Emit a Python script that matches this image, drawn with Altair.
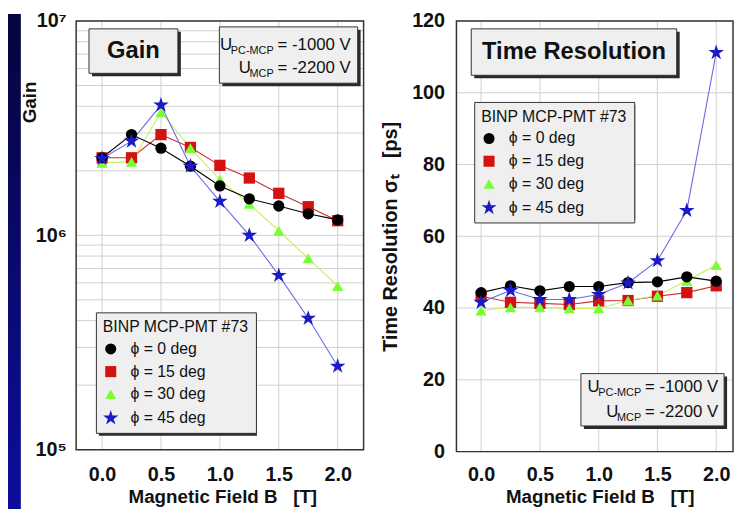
import altair as alt
import pandas as pd

FONT = "Liberation Sans"
GRID = "#cfcfcf"
INK = "#111111"

B = [0.0, 0.25, 0.5, 0.75, 1.0, 1.25, 1.5, 1.75, 2.0]
phi_labels = ["ϕ = 0 deg", "ϕ = 15 deg", "ϕ = 30 deg", "ϕ = 45 deg"]

gain_phi0 = [2.30e6, 2.95e6, 2.55e6, 2.10e6, 1.70e6, 1.48e6, 1.37e6, 1.26e6, 1.18e6]
gain_phi15 = [2.30e6, 2.30e6, 2.95e6, 2.57e6, 2.12e6, 1.85e6, 1.57e6, 1.36e6, 1.17e6]
gain_phi30 = [2.18e6, 2.20e6, 3.75e6, 2.55e6, 1.82e6, 1.40e6, 1.05e6, 7.8e5, 5.8e5]
gain_phi45 = [2.28e6, 2.75e6, 4.05e6, 2.10e6, 1.44e6, 1.00e6, 6.5e5, 4.1e5, 2.45e5]

tres_phi0 = [44.3, 46.2, 44.8, 46.0, 46.0, 47.1, 47.3, 48.7, 47.5]
tres_phi15 = [43.3, 41.6, 41.3, 41.0, 42.0, 42.1, 43.3, 44.3, 46.2]
tres_phi30 = [39.3, 40.2, 40.2, 39.9, 39.9, 42.1, 43.5, 47.6, 52.0]
tres_phi45 = [41.6, 44.9, 42.4, 42.4, 43.8, 47.0, 53.2, 67.2, 111.2]

x_ticks = [0.0, 0.5, 1.0, 1.5, 2.0]
gain_grid = [k * 10 ** e for e in (5, 6) for k in range(1, 10)] + [10 ** 7]
tres_ticks = [0, 20, 40, 60, 80, 100, 120]

STAR = ("M0,-1.45L0.326,-0.448L1.379,-0.448L0.527,0.171L0.852,1.173L0,0.554"
        "L-0.852,1.173L-0.527,0.171L-1.379,-0.448L-0.326,-0.448Z")
marker_colors = ["#000000", "#d41212", "#77ff33", "#1a1ac8"]
line_colors = ["#000000", "#cc2a2a", "#c8f060", "#6a6ae8"]
shapes = ["circle", "square", "triangle-up", STAR]
draw_order = [1, 2, 0, 3]  # red, green, black, blue on top

gain_series = [gain_phi0, gain_phi15, gain_phi30, gain_phi45]
tres_series = [tres_phi0, tres_phi15, tres_phi30, tres_phi45]


def long_df(series, name):
    rows = []
    for i in draw_order:
        for b, v in zip(B, series[i]):
            rows.append({"B": b, name: v, "phi": phi_labels[i]})
    return pd.DataFrame(rows)


gain_df = long_df(gain_series, "gain")
tres_df = long_df(tres_series, "tres")

# pixel layout of the two panels inside one plot area
LX = alt.Scale(domain=[-0.22, 2.22], range=[0, 291], nice=False, zero=False)
LY = alt.Scale(type="log", domain=[1e5, 1e7], range=[434, 0], nice=False)
RX = alt.Scale(domain=[-0.21, 2.143], range=[385, 665], nice=False, zero=False)
RY = alt.Scale(domain=[0, 120], range=[436, 0], nice=False, zero=False)

one = alt.Data(values=[{}])


def rect(x1, y1, x2, y2, fill, stroke=None, fill_opacity=1):
    kw = dict(color=fill, fillOpacity=fill_opacity)
    if stroke:
        kw.update(stroke=stroke, strokeWidth=1 if fill_opacity else 1.5)
    return alt.Chart(one).mark_rect(**kw).encode(
        x=alt.value(x1), x2=alt.value(x2), y=alt.value(y1), y2=alt.value(y2))


def box(x1, y1, x2, y2):
    return [rect(x1 + 3, y1 + 3, x2 + 3, y2 + 3, "#2a2a2a"),
            rect(x1, y1, x2, y2, "#efefef", "#333333")]


def txt(x, y, s, size, weight="normal", align="center", baseline="middle"):
    return alt.Chart(one).mark_text(
        text=s, fontSize=size, fontWeight=weight, align=align, baseline=baseline,
        font=FONT, color=INK).encode(x=alt.value(x), y=alt.value(y))


def voltage(xr, yb1, yb2):
    return [
        txt(xr, yb1, "= -1000 V", 17, align="right", baseline="alphabetic"),
        txt(xr - 78, yb1 + 4, "PC-MCP", 11, align="right", baseline="alphabetic"),
        txt(xr - 120, yb1, "U", 17, align="right", baseline="alphabetic"),
        txt(xr, yb2, "= -2200 V", 17, align="right", baseline="alphabetic"),
        txt(xr - 78, yb2 + 4, "MCP", 11, align="right", baseline="alphabetic"),
        txt(xr - 101, yb2, "U", 17, align="right", baseline="alphabetic"),
    ]


def legend(lx, ly):
    return alt.Legend(
        title="BINP MCP-PMT #73", orient="none", legendX=lx, legendY=ly,
        fillColor="#efefef", strokeColor="#333333", padding=7,
        titleFont=FONT, titleFontSize=16, titleFontWeight="normal", titleColor=INK,
        titlePadding=6, labelFont=FONT, labelFontSize=16, labelColor=INK,
        symbolSize=125, rowPadding=7, labelOffset=12, symbolStrokeWidth=0)


def x_axis(title_x):
    return alt.Axis(orient="bottom", values=x_ticks, format=".1f", grid=False, ticks=False,
                    domain=False, labelFont=FONT, labelFontSize=20, labelFontWeight="bold",
                    labelColor=INK, labelPadding=13,
                    title="Magnetic Field B\u00a0\u00a0\u00a0[T]", titleFont=FONT,
                    titleFontSize=19, titleFontWeight="bold", titleColor=INK,
                    titleX=title_x, titleY=46, titleBaseline="middle", titleAlign="center")


def grid_layers(xs, ys, yvals, x0, x1, h):
    vgrid = alt.Chart(pd.DataFrame({"v": x_ticks})).mark_rule(color=GRID, strokeWidth=1).encode(
        x=alt.X("v:Q", scale=xs, axis=None), y=alt.value(0), y2=alt.value(h))
    hgrid = alt.Chart(pd.DataFrame({"v": yvals})).mark_rule(color=GRID, strokeWidth=1).encode(
        y=alt.Y("v:Q", scale=ys, axis=None), x=alt.value(x0), x2=alt.value(x1))
    return [vgrid, hgrid]


def data_layers(df, yfield, xs, ys, xax, yax, leg):
    lines = alt.Chart(df).mark_line(strokeWidth=1.1).encode(
        x=alt.X("B:Q", scale=xs, axis=xax),
        y=alt.Y(f"{yfield}:Q", scale=ys, axis=yax),
        color=alt.Color("phi:N", scale=alt.Scale(domain=phi_labels, range=line_colors), legend=None),
        order="B:Q",
    )
    pts = alt.Chart(df).mark_point(filled=True, size=130, opacity=1).encode(
        x=alt.X("B:Q", scale=xs, axis=None),
        y=alt.Y(f"{yfield}:Q", scale=ys, axis=None),
        color=alt.Color("phi:N", scale=alt.Scale(domain=phi_labels, range=marker_colors), legend=leg),
        shape=alt.Shape("phi:N", scale=alt.Scale(domain=phi_labels, range=shapes), legend=leg),
    )
    return [lines, pts]


gain_yaxis = alt.Axis(
    orient="left", values=gain_grid, grid=False, ticks=False, domain=False,
    labelExpr="datum.value == 100000 ? '10⁵' : datum.value == 1000000 ? '10⁶' : datum.value == 10000000 ? '10⁷' : ''",
    labelFont=FONT, labelFontSize=20, labelFontWeight="bold", labelColor=INK,
    labelPadding=10, labelOverlap=False,
    title="Gain", titleFont=FONT, titleFontSize=19, titleFontWeight="bold", titleColor=INK,
    titleX=-47, titleY=82, titleBaseline="middle", titleAlign="center")

tres_yaxis = alt.Axis(
    orient="left", offset=-385, values=tres_ticks, grid=False, ticks=False, domain=False,
    labelFont=FONT, labelFontSize=20, labelFontWeight="bold", labelColor=INK,
    labelPadding=12, labelOverlap=False,
    title="Time Resolution σₜ\u00a0\u00a0\u00a0[ps]", titleFont=FONT, titleFontSize=20,
    titleFontWeight="bold", titleColor=INK,
    titleX=-67, titleY=218, titleBaseline="middle", titleAlign="center")

strip = alt.Chart(one).mark_rect(color=alt.LinearGradient(
    gradient="linear", x1=0, x2=0, y1=0, y2=1,
    stops=[alt.GradientStop(color="#05053c", offset=0),
           alt.GradientStop(color="#0d0d9c", offset=1)])).encode(
    x=alt.value(-69), x2=alt.value(-56), y=alt.value(-7), y2=alt.value(494))

layers = (
    [strip]
    + grid_layers(LX, LY, gain_grid, 0, 291, 434)
    + grid_layers(RX, RY, tres_ticks, 385, 665, 436)
    + [rect(23, 298, 183, 420, "#2a2a2a"), rect(406, 85, 566, 201, "#2a2a2a")]
    + data_layers(gain_df, "gain", LX, LY, x_axis(148), gain_yaxis, legend(20, 295))
    + data_layers(tres_df, "tres", RX, RY, x_axis(530), tres_yaxis, legend(403, 82))
    + [rect(0, 0, 291, 434, "#ffffff", "#333333", 0),
       rect(385, 0, 665, 436, "#ffffff", "#333333", 0)]
    + box(13, 8, 103, 53) + [txt(58, 31, "Gain", 24, "bold")]
    + box(145, 6, 285, 63) + voltage(278, 29, 53)
    + box(400, 8, 608, 55) + [txt(504, 32, "Time Resolution", 24, "bold")]
    + box(511, 357, 656, 410) + voltage(650, 376, 401)
)

chart = (alt.layer(*layers)
         .resolve_scale(x="independent", y="independent", color="independent", shape="independent")
         .resolve_legend(color="independent", shape="independent")
         .properties(width=665, height=436, padding=0, background="white")
         .configure_view(stroke=None))

chart.save("out.html", embed_options={"renderer": "svg", "actions": False})
